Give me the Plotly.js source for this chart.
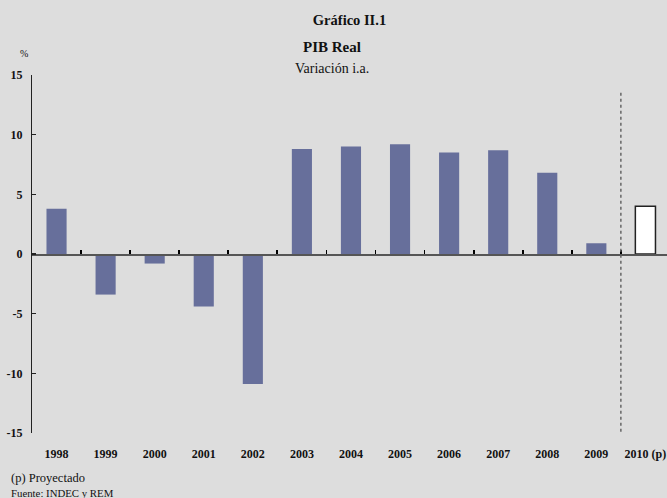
<!DOCTYPE html>
<html>
<head>
<meta charset="utf-8">
<script src="https://cdn.plot.ly/plotly-3.0.1.min.js"></script>
<style>html,body{margin:0;padding:0;background:#dddddd;}#chart{width:667px;height:498px;}</style>
</head>
<body>
<div id="chart"></div>
<script>
// Data
const years = ["1998","1999","2000","2001","2002","2003","2004","2005","2006","2007","2008","2009","2010 (p)"];
const histYears = years.slice(0, 12);
const histValues = [3.8, -3.4, -0.8, -4.4, -10.9, 8.8, 9.0, 9.2, 8.5, 8.7, 6.8, 0.9];
const projYears = ["2010 (p)"];
const projValues = [4.0];
const yTicks = [-15, -10, -5, 0, 5, 10, 15];

const serif = "Liberation Serif, Times New Roman, serif";
const xRange = [-0.5, 12.44];
// category boundaries (between bars) for the ticks on the zero line
const boundaries = years.map((_, i) => i - 0.5).concat([years.length - 0.5]);

const traces = [
  {type: "bar", x: histYears, y: histValues, xaxis: "x", yaxis: "y",
   marker: {color: "#676f9b", line: {width: 0}}, width: 0.41, hoverinfo: "x+y"},
  {type: "bar", x: projYears, y: projValues, xaxis: "x", yaxis: "y",
   marker: {color: "#ffffff", line: {color: "#222222", width: 1.5}}, width: 0.41, hoverinfo: "x+y"},
  {type: "scatter", mode: "markers", x: boundaries, y: boundaries.map(() => 0), xaxis: "x2", yaxis: "y",
   marker: {size: 0.1, opacity: 0}, showlegend: false, hoverinfo: "skip"}
];

const divider = years.length - 1.5;

const layout = {
  width: 667, height: 498,
  paper_bgcolor: "#dddddd", plot_bgcolor: "#dddddd",
  margin: {l: 32, r: 0, t: 75, b: 65},
  showlegend: false,
  barmode: "overlay",
  font: {family: serif, color: "#111111"},
  title: {text: "<b>Gráfico II.1</b>", x: 0.5, xref: "paper", y: 1 - 20 / 498, yref: "container",
          yanchor: "middle", font: {size: 14.5, family: serif, color: "#111"}},
  xaxis: {type: "category", categoryorder: "array", categoryarray: years,
          range: xRange, showline: false, ticks: "", showgrid: false, zeroline: false,
          tickfont: {size: 12, family: serif, color: "#111", weight: "bold"},
          ticklabelstandoff: 12},
  xaxis2: {type: "linear", overlaying: "x", range: xRange, anchor: "free", position: 0.5, side: "bottom",
           showline: true, linecolor: "#555555", linewidth: 1.5,
           ticks: "inside", ticklen: 4, tickwidth: 1.8, tickcolor: "#000",
           tickmode: "array", tickvals: boundaries,
           showticklabels: false, showgrid: false, zeroline: false},
  yaxis: {range: [-15, 15], tickvals: yTicks, ticktext: yTicks.map(String),
          showline: true, linecolor: "#222", linewidth: 1.2, ticks: "inside", ticklen: 4,
          tickcolor: "#222", tickwidth: 1.2, showgrid: false, zeroline: false,
          tickfont: {size: 12, family: serif, color: "#111", weight: "bold"},
          ticklabelstandoff: 6},
  shapes: [
    {type: "line", xref: "x", yref: "y", x0: divider, x1: divider, y0: -15.4, y1: 13.6,
     line: {color: "#666666", width: 1.5, dash: "dot"}}
  ],
  annotations: [
    {text: "<b>PIB Real</b>", xref: "paper", yref: "paper", x: 0.473, y: 1, yshift: 28,
     xanchor: "center", yanchor: "middle", showarrow: false, font: {size: 15, family: serif, color: "#111"}},
    {text: "Variación i.a.", xref: "paper", yref: "paper", x: 0.473, y: 1, yshift: 7,
     xanchor: "center", yanchor: "middle", showarrow: false, font: {size: 14, family: serif, color: "#111"}},
    {text: "%", xref: "paper", yref: "paper", x: 0, y: 1, xshift: -8, yshift: 22,
     xanchor: "center", yanchor: "middle", showarrow: false, font: {size: 10, family: serif, color: "#111"}},
    {text: "(p) Proyectado", xref: "paper", yref: "paper", x: 0, y: 0, xshift: -23, yshift: -45,
     xanchor: "left", yanchor: "middle", showarrow: false, font: {size: 12.5, family: serif, color: "#111"}},
    {text: "Fuente: INDEC y REM", xref: "paper", yref: "paper", x: 0, y: 0, xshift: -23, yshift: -60,
     xanchor: "left", yanchor: "middle", showarrow: false, font: {size: 10.8, family: serif, color: "#111"}}
  ]
};

Plotly.newPlot("chart", traces, layout, {displayModeBar: false, staticPlot: true});
</script>
</body>
</html>
